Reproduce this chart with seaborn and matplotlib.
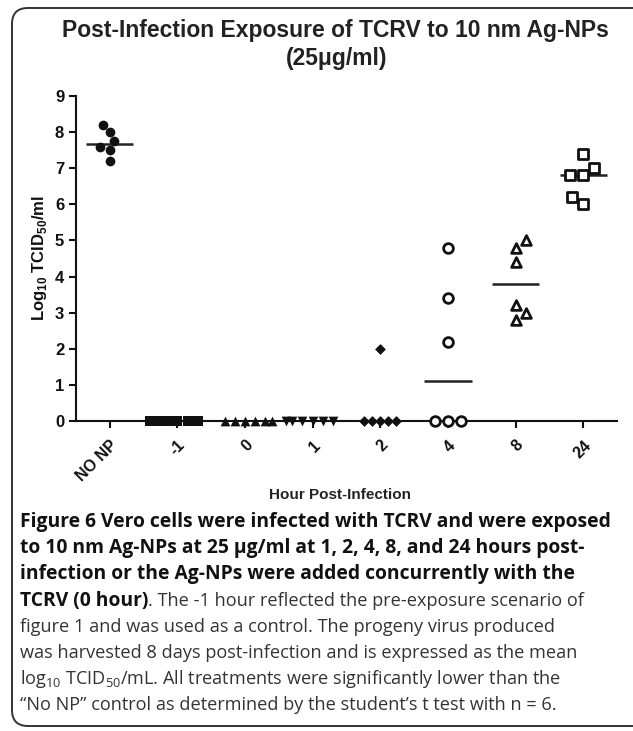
import numpy as np
import pandas as pd
import matplotlib
matplotlib.use('Agg')
import matplotlib.pyplot as plt
import seaborn as sns
from matplotlib.patches import FancyBboxPatch

# Setup
sns.set_style('ticks')
plt.rcParams['font.family'] = ['Liberation Sans', 'DejaVu Sans']
plt.rcParams['mathtext.fontset'] = 'custom'
plt.rcParams['mathtext.rm'] = 'Liberation Sans'
plt.rcParams['mathtext.bf'] = 'Liberation Sans:bold'

# --- DATA (log10 TCID50/ml, n = 6 per group) ---
groups = ['NO NP', '-1', '0', '1', '2', '4', '8', '24']
no_np = [8.0, 8.2, 7.6, 7.5, 7.75, 7.2]
h_minus1 = [0, 0, 0, 0, 0, 0]
h0 = [0, 0, 0, 0, 0, 0]
h1 = [0, 0, 0, 0, 0, 0]
h2 = [2.0, 0, 0, 0, 0, 0]
h4 = [4.8, 3.4, 2.2, 0, 0, 0]
h8 = [5.0, 4.8, 4.4, 3.2, 3.0, 2.8]
h24 = [7.4, 7.0, 6.8, 6.8, 6.2, 6.0]
values = [no_np, h_minus1, h0, h1, h2, h4, h8, h24]

markers = ['o', 's', '^', 'v', 'D', 'o', '^', 's']
filled = [True, True, True, True, True, False, False, False]

df = pd.DataFrame({
    'hour': np.repeat(groups, 6),
    'titer': np.concatenate(values),
})

# --- PLOTTING ---
W, H = 633, 731
fig = plt.figure(figsize=(W / 100, H / 100), dpi=100)

# background axes in pixel coords for frame + texts
bg = fig.add_axes([0, 0, 1, 1])
bg.set_xlim(0, W)
bg.set_ylim(H, 0)
bg.axis('off')
bg.add_patch(FancyBboxPatch((12, 8), 700, 718, boxstyle='round,pad=0,rounding_size=16',
                            fc='none', ec='#333333', lw=1.4))

ax = fig.add_axes([76 / W, 1 - 421 / H, (617 - 76) / W, (421 - 96) / H])
ax.patch.set_alpha(0)

# median lines
sns.boxplot(data=df, x='hour', y='titer', order=groups, width=0.7, ax=ax,
            showbox=False, showcaps=False, showfliers=False,
            whiskerprops={'visible': False},
            medianprops={'color': '#222222', 'linewidth': 1.8})

for g, m, f in zip(groups, markers, filled):
    sub = df[df['hour'] == g]
    n_before = len(ax.collections)
    if f:
        sns.swarmplot(data=sub, x='hour', y='titer', order=groups, marker=m,
                      color='#111111', size=7 if m != 'D' else 5.5, ax=ax)
    else:
        sns.swarmplot(data=sub, x='hour', y='titer', order=groups, marker=m,
                      color='white', edgecolor='#111111', linewidth=2, size=7, ax=ax)
    for c in ax.collections[n_before:]:
        c.set_clip_on(False)
        c.set_zorder(4)

ax.set_xlim(-0.5, 7.5)
ax.set_ylim(0, 9)
ax.set_yticks(range(10))
sns.despine(ax=ax)
for s in ['left', 'bottom']:
    ax.spines[s].set_linewidth(1.5)
    ax.spines[s].set_color('#111111')
ax.tick_params(axis='both', width=1.5, length=5, color='#111111',
               labelsize=12, labelcolor='#111111')
for lab in ax.get_yticklabels():
    lab.set_fontweight('bold')
ax.set_xticks(range(len(groups)))
ax.set_xticklabels(groups, rotation=45, ha='right', rotation_mode='anchor',
                   fontweight='bold', fontsize=11.5)
ax.tick_params(axis='x', pad=7)
ax.set_xlabel('')
ax.set_ylabel(r'Log$_\mathbf{10}$ TCID$_\mathbf{50}$/ml', fontweight='bold',
              fontsize=12, labelpad=4, color='#111111')

# title and x label
bg.text(335, 30, 'Post-Infection Exposure of TCRV to 10 nm Ag-NPs', ha='center', va='center',
        fontsize=16.5, fontweight='bold', color='#222222')
bg.text(337, 59, '(25\u03bcg/ml)', ha='center', va='center',
        fontsize=16.5, fontweight='bold', color='#222222')
bg.text(340, 495, 'Hour Post-Infection', ha='center', va='center',
        fontsize=11, fontweight='bold', color='#222222')

# caption
cap_font = ['Open Sans', 'DejaVu Sans']
bold_size = 13.9
reg_size = 13.1
bold_lines = ['Figure 6 Vero cells were infected with TCRV and were exposed',
              'to 10 nm Ag-NPs at 25 \u00b5g/ml at 1, 2, 4, 8, and 24 hours post-',
              'infection or the Ag-NPs were added concurrently with the']
reg_lines = ['figure 1 and was used as a control. The progeny virus produced',
             'was harvested 8 days post-infection and is expressed as the mean',
             r'log$_\mathregular{10}$ TCID$_\mathregular{50}$/mL. All treatments were significantly lower than the',
             '\u201cNo NP\u201d control as determined by the student\u2019s t test with n = 6.']
x0 = 20
y = 522
step = 26.2
for line in bold_lines:
    bg.text(x0, y, line, ha='left', va='center', family=cap_font, fontsize=bold_size,
            fontweight='bold', color='#111111')
    y += step
t = bg.text(x0, y, 'TCRV (0 hour)', ha='left', va='center', family=cap_font,
            fontsize=bold_size, fontweight='bold', color='#111111')
fig.canvas.draw()
bb = t.get_window_extent(renderer=fig.canvas.get_renderer())
bg.text(bb.x1, y, '. The -1 hour reflected the pre-exposure scenario of', ha='left', va='center',
        family=cap_font, fontsize=reg_size, color='#333333')
y += step
plt.rcParams['mathtext.rm'] = 'Open Sans'
for line in reg_lines:
    bg.text(x0, y, line, ha='left', va='center', family=cap_font, fontsize=reg_size,
            color='#333333')
    y += step

fig.savefig('out.png', dpi=100)
